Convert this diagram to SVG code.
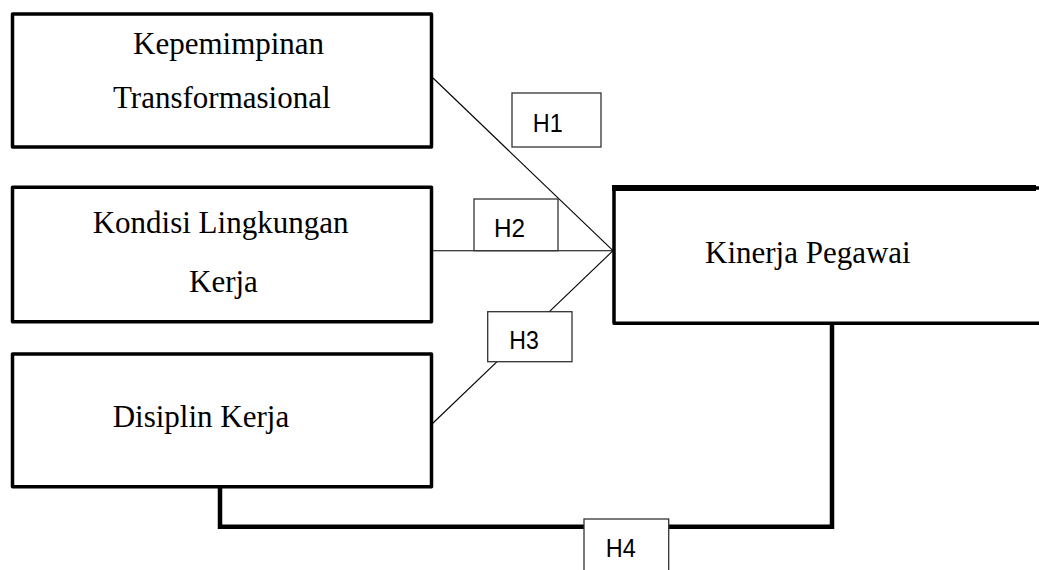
<svg xmlns="http://www.w3.org/2000/svg" width="1039" height="570" viewBox="0 0 1039 570">
<style>
.box{fill:#fff;stroke:#000;stroke-width:3.5;stroke-linejoin:round}
.lbl{font-family:"Liberation Serif","Times New Roman",serif;font-size:31px;fill:#000}
.hbox{fill:#fff;stroke:#333;stroke-width:1.3}
.htx{font-family:"Liberation Sans",Arial,sans-serif;font-size:26px;fill:#000}
.thin{fill:none;stroke:#000;stroke-width:1.1}
.thick{fill:none;stroke:#000;stroke-width:4.5;stroke-linejoin:miter}
</style>
<rect width="1039" height="570" fill="#fff"/>
<g id="connectors">
  <line class="thin" x1="433" y1="78" x2="613" y2="250.7"/>
  <line class="thin" x1="432" y1="250.7" x2="613" y2="250.7"/>
  <line class="thin" x1="613" y1="250.7" x2="432" y2="424"/>
  <polyline class="thick" points="220,487 220,526.7 832,526.7 832,323"/>
</g>
<g id="node-kepemimpinan">
  <rect class="box" x="12.5" y="14" width="419" height="133"/>
  <text class="lbl" x="133" y="54">Kepemimpinan</text>
  <text class="lbl" x="113" y="108">Transformasional</text>
</g>
<g id="node-kondisi">
  <rect class="box" x="12.5" y="187.3" width="419" height="134.4"/>
  <text class="lbl" x="92.7" y="233.3">Kondisi Lingkungan</text>
  <text class="lbl" x="189" y="291.7">Kerja</text>
</g>
<g id="node-disiplin">
  <rect class="box" x="12.5" y="354" width="419" height="132.7"/>
  <text class="lbl" x="112.7" y="427.3">Disiplin Kerja</text>
</g>
<g id="node-kinerja">
  <rect class="box" x="614" y="188" width="440" height="135.3"/>
  <line x1="612" y1="188" x2="1036" y2="188" stroke="#000" stroke-width="6"/>
  <text class="lbl" x="705" y="262.7">Kinerja Pegawai</text>
</g>
<g id="label-h1">
  <rect class="hbox" x="512" y="93" width="89" height="54"/>
  <text class="htx" x="532.7" y="132" textLength="30" lengthAdjust="spacingAndGlyphs">H1</text>
</g>
<g id="label-h2">
  <rect class="hbox" x="474" y="199" width="84" height="51.7"/>
  <text class="htx" x="494" y="237.3" textLength="31" lengthAdjust="spacingAndGlyphs">H2</text>
</g>
<g id="label-h3">
  <rect class="hbox" x="487.7" y="311.7" width="84.3" height="50"/>
  <text class="htx" x="509.3" y="349.3" textLength="29.5" lengthAdjust="spacingAndGlyphs">H3</text>
</g>
<g id="label-h4">
  <rect class="hbox" x="584" y="519" width="84.7" height="60"/>
  <text class="htx" x="605.7" y="556.7" textLength="30" lengthAdjust="spacingAndGlyphs">H4</text>
</g>
</svg>
